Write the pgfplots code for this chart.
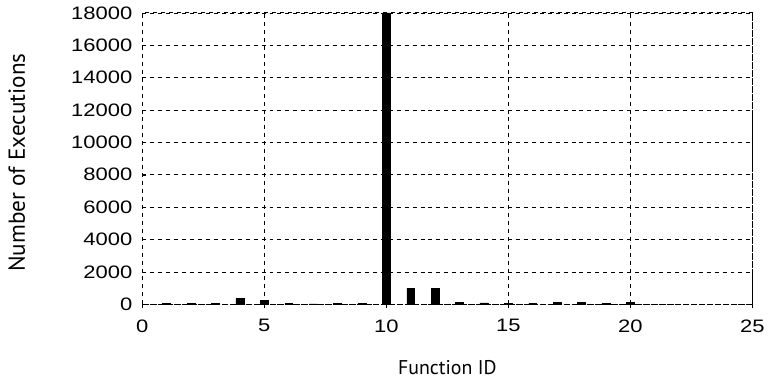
\documentclass[border=0pt]{standalone}
\usepackage{fontspec}
\setmainfont{Liberation Sans}
\newfontfamily\labelfont{PT Sans}
\newfontfamily\tickfont[FakeStretch=1.22]{Liberation Sans}
\usepackage{pgfplots}
\pgfplotsset{compat=1.18}
\begin{document}
\begin{tikzpicture}
\draw[white] (-107.25pt,-58.5pt) rectangle (467pt,229.5pt);
\begin{axis}[
  at={(0,0)}, anchor=south west,
  scale only axis, width=460.5pt, height=220pt,
  xmin=0, xmax=25, ymin=0, ymax=18000,
  xtick={0,5,10,15,20,25}, ytick={0,2000,...,18000},
  /pgf/number format/assume math mode=true,
  scaled y ticks=false,
  yticklabel style={/pgf/number format/fixed, /pgf/number format/1000 sep={}, xshift=-4pt},
  xticklabel style={yshift=-5pt},
  ticklabel style={font=\fontsize{13.6}{16}\tickfont},
  xlabel style={font=\fontsize{15}{17}\labelfont, yshift=-14pt},
  ylabel style={font=\fontsize{17.5}{19}\labelfont, yshift=28pt, xshift=-3pt},
  xlabel={Function ID}, ylabel={Number of Executions},
  grid=major, major grid style={black, dashed, line width=0.5pt},
  axis line style={black, dashed, line width=0.6pt},
  tick style={black, solid}, tick align=inside, major tick length=3pt,
  xtick pos=bottom, ytick pos=left,
  ybar, bar width=6pt,
]
\addplot[fill=black, draw=black] coordinates {
(1,60) (2,40) (3,50) (4,350) (5,220) (6,40) (7,30) (8,50) (9,60) (10,18000)
(11,1000) (12,1000) (13,100) (14,80) (15,60) (16,70) (17,100) (18,120) (19,60) (20,130)
};
\end{axis}
\end{tikzpicture}
\end{document}
